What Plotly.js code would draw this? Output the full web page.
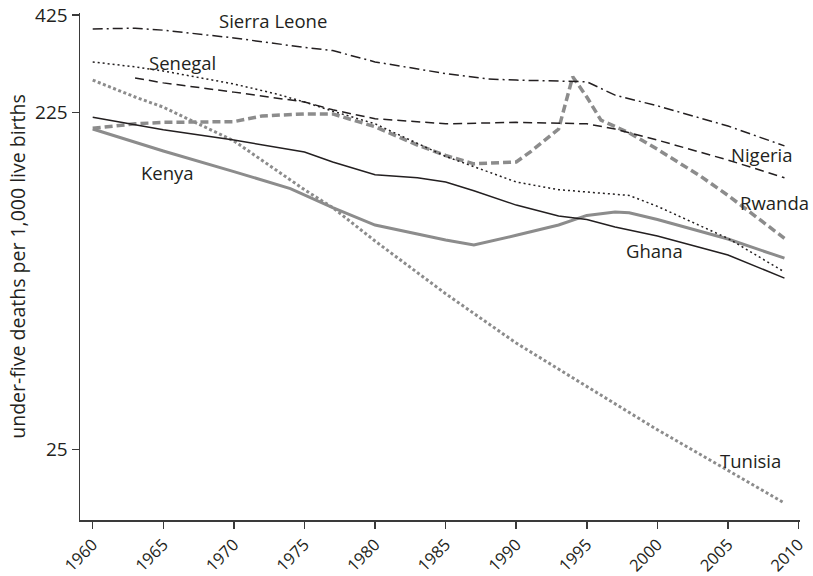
<!DOCTYPE html>
<html>
<head>
<meta charset="utf-8">
<script src="https://cdn.plot.ly/plotly-3.0.1.min.js"></script>
<style>html,body{margin:0;padding:0;background:#fff}#chart{width:813px;height:576px}</style>
</head>
<body>
<div id="chart"></div>
<script>
// under-five deaths per 1,000 live births
var sierraLeoneYears = [1960,1963,1965,1968,1970,1975,1977,1980,1985,1988,1990,1995,1997,2000,2005,2009];
var sierraLeone      = [388, 390, 385, 374, 366, 344, 337, 313, 290, 280, 278, 275, 252, 235, 206, 181];

var senegalYears = [1960,1963,1965,1970,1973,1975,1977,1980,1985,1987,1990,1993,1995,1998,2000,2005,2009];
var senegal      = [313, 303, 295, 271, 254, 241, 227, 209, 169, 158, 143, 136, 134, 131, 122, 99, 79.5];

var nigeriaYears = [1963,1965,1970,1975,1977,1980,1985,1990,1995,1997,2000,2005,2009];
var nigeria      = [282, 273, 257, 241, 229, 216, 209, 211, 209, 202, 188, 165, 147];

var ghanaYears = [1960,1965,1970,1975,1977,1980,1983,1985,1987,1990,1993,1995,1997,2000,2005,2009];
var ghana      = [218, 201, 188, 174, 163, 150, 147, 143, 135, 123, 114.6, 112, 106.6, 100.5, 88.8, 76.4];

var kenyaYears = [1960,1965,1970,1974,1977,1980,1985,1987,1990,1993,1995,1997,1998,2000,2005,2009];
var kenya      = [202, 175, 153, 137, 121, 108, 98, 94.8, 101, 108, 115, 117.6, 117, 112, 98.6, 87];

var rwandaYears = [1960,1963,1965,1970,1972,1975,1977,1980,1983,1985,1987,1990,1991,1992,1993,1994,1995,1996,1998,2000,2003,2005,2009];
var rwanda      = [203, 209, 211, 212, 220, 223, 223, 205, 182, 170, 161, 163, 174, 188, 202, 284, 249, 214, 197, 177, 149, 131, 99];

var tunisiaYears = [1960,1963,1965,1970,1975,1977,1980,1985,1990,1995,2000,2005,2009];
var tunisia      = [278, 249, 233, 187, 136, 121, 97.3, 69, 50, 37.6, 28.4, 21.8, 17.6];

var yTicks = [25, 225, 425];
var xTicks = [1960,1965,1970,1975,1980,1985,1990,1995,2000,2005,2010];

var BLACK = '#231f20';
var GREY = '#8c8c8c';
var FONT = 'Open Sans, Lato, DejaVu Sans, sans-serif';

function tr(x, y, color, width, dash) {
  return {x: x, y: y, type: 'scatter', mode: 'lines', hoverinfo: 'skip',
          line: {color: color, width: width, dash: dash, shape: 'linear'}};
}

var data = [
  tr(tunisiaYears, tunisia, GREY, 3, '3px,2.5px'),
  tr(kenyaYears, kenya, GREY, 3, 'solid'),
  tr(rwandaYears, rwanda, GREY, 3.5, '8px,4px'),
  tr(sierraLeoneYears, sierraLeone, BLACK, 1.5, '10px,4px,2px,4px'),
  tr(senegalYears, senegal, BLACK, 1.5, '2px,3px'),
  tr(nigeriaYears, nigeria, BLACK, 1.5, '9px,5px'),
  tr(ghanaYears, ghana, BLACK, 1.5, 'solid')
];

function lab(text, x, y) {
  return {text: text, xref: 'paper', yref: 'paper', x: x, y: y,
          xanchor: 'center', yanchor: 'middle', showarrow: false,
          font: {family: FONT, size: 18.5, color: '#231f20'}};
}

var layout = {
  width: 813, height: 576,
  margin: {l: 80, r: 13, t: 13, b: 56},
  paper_bgcolor: '#fff', plot_bgcolor: '#fff',
  showlegend: false,
  font: {family: FONT, color: '#231f20'},
  xaxis: {
    range: [1959.1, 2010.1],
    tickvals: xTicks, ticktext: xTicks.map(String),
    tickangle: -45,
    ticks: 'outside', ticklen: 7, tickwidth: 1.5, tickcolor: '#3a3a3a',
    showline: true, linecolor: '#3a3a3a', linewidth: 1.5,
    showgrid: false, zeroline: false,
    tickfont: {family: FONT, size: 16.5, color: '#231f20'}
  },
  yaxis: {
    type: 'log',
    range: [1.1978, 2.6341],
    tickvals: yTicks, ticktext: yTicks.map(String),
    ticks: 'outside', ticklen: 7, tickwidth: 1.5, tickcolor: '#3a3a3a',
    showline: true, linecolor: '#3a3a3a', linewidth: 1.5,
    showgrid: false, zeroline: false,
    tickfont: {family: FONT, size: 19, color: '#231f20'},
    title: {text: 'under-five deaths per 1,000 live births', standoff: 4,
            font: {family: FONT, size: 19.5, color: '#231f20'}}
  },
  annotations: [
    lab('Sierra Leone', 0.268, 0.986),
    lab('Senegal', 0.143, 0.903),
    lab('Kenya', 0.1215, 0.686),
    lab('Nigeria', 0.947, 0.720),
    lab('Rwanda', 0.965, 0.627),
    lab('Ghana', 0.7986, 0.5325),
    lab('Tunisia', 0.9306, 0.1164)
  ]
};

Plotly.newPlot('chart', data, layout, {staticPlot: true, displayModeBar: false});
</script>
</body>
</html>
